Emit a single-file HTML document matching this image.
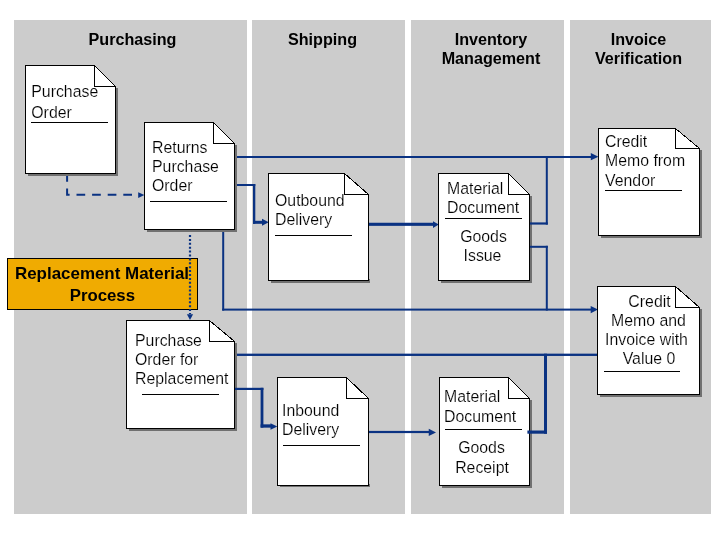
<!DOCTYPE html>
<html><head><meta charset="utf-8"><title>Replacement Material Process</title>
<style>
html,body{margin:0;padding:0;background:#fff;}
body{width:720px;height:540px;overflow:hidden;font-family:"Liberation Sans",sans-serif;}
svg{display:block;will-change:transform;opacity:0.999;}
svg text{font-family:"Liberation Sans",sans-serif;fill:#000;}
</style></head><body>
<svg width="720" height="540" viewBox="0 0 720 540" shape-rendering="crispEdges">
<rect x="14" y="20" width="233" height="494" fill="#cccccc"/>
<rect x="252" y="20" width="153" height="494" fill="#cccccc"/>
<rect x="411" y="20" width="153" height="494" fill="#cccccc"/>
<rect x="570" y="20" width="141" height="494" fill="#cccccc"/>
<text x="132.5" y="45" text-anchor="middle" font-size="16.15" font-weight="bold">Purchasing</text>
<text x="322.5" y="45" text-anchor="middle" font-size="16.15" font-weight="bold">Shipping</text>
<text x="491" y="45" text-anchor="middle" font-size="16.15" font-weight="bold">Inventory</text>
<text x="491" y="64" text-anchor="middle" font-size="16.15" font-weight="bold">Management</text>
<text x="638.5" y="45" text-anchor="middle" font-size="16.15" font-weight="bold">Invoice</text>
<text x="638.5" y="64" text-anchor="middle" font-size="16.15" font-weight="bold">Verification</text>
<rect x="236" y="156.0" width="356" height="2" fill="#0a3282" shape-rendering="auto"/>
<path d="M598.5,156.7 L590.8,153.1 V160.29999999999998 Z" fill="#0a3282" shape-rendering="auto"/>
<rect x="236" y="184.0" width="19.30000000000001" height="2" fill="#0a3282" shape-rendering="auto"/>
<rect x="253.0" y="184" width="2.3" height="39.80000000000001" fill="#0a3282" shape-rendering="auto"/>
<rect x="253" y="220.8" width="10" height="3" fill="#0a3282" shape-rendering="auto"/>
<path d="M268.7,222.3 L262.0,218.8 V225.8 Z" fill="#0a3282" shape-rendering="auto"/>
<rect x="368.5" y="222.75" width="65.5" height="3.1" fill="#0a3282" shape-rendering="auto"/>
<path d="M438.75,224.6 L433.0,221.29999999999998 V227.9 Z" fill="#0a3282" shape-rendering="auto"/>
<rect x="545.8" y="156" width="2" height="68.6" fill="#0a3282" shape-rendering="auto"/>
<rect x="545.8" y="245.8" width="2" height="64.80000000000001" fill="#0a3282" shape-rendering="auto"/>
<rect x="222.2" y="230" width="2" height="80.60000000000002" fill="#0a3282" shape-rendering="auto"/>
<rect x="222.2" y="308.6" width="369.8" height="2" fill="#0a3282" shape-rendering="auto"/>
<path d="M598,309.6 L590.7,306.0 V313.20000000000005 Z" fill="#0a3282" shape-rendering="auto"/>
<path d="M67.1,173 V194.8 H138.5" fill="none" stroke="#0a3282" stroke-width="2" stroke-dasharray="8.7 6.9" shape-rendering="auto"/>
<path d="M144.4,195.1 L138.20000000000002,192.29999999999998 V197.9 Z" fill="#0a3282" shape-rendering="auto"/>
<rect x="236" y="353.65000000000003" width="362" height="2.3" fill="#0a3282" shape-rendering="auto"/>
<rect x="260.6" y="387.8" width="2.8" height="39.80000000000001" fill="#0a3282" shape-rendering="auto"/>
<rect x="260.6" y="424.35" width="10.899999999999977" height="3.3" fill="#0a3282" shape-rendering="auto"/>
<path d="M277.3,426.5 L270.5,423.2 V429.8 Z" fill="#0a3282" shape-rendering="auto"/>
<rect x="369" y="430.9" width="61" height="2.2" fill="#0a3282" shape-rendering="auto"/>
<path d="M436,432.4 L428.75,428.79999999999995 V436.0 Z" fill="#0a3282" shape-rendering="auto"/>
<rect x="28.0" y="88.0" width="90.0" height="88.0" fill="#707070"/>
<path d="M25.5,65.5 H94.5 L115.5,86.5 V173.5 H25.5 Z" fill="#fff" stroke="#000" stroke-width="1"/>
<path d="M94.5,65.5 V86.5 H115.5" fill="none" stroke="#000" stroke-width="1"/>
<rect x="147.0" y="145.0" width="90.0" height="87.0" fill="#707070"/>
<path d="M144.5,122.5 H213.5 L234.5,143.5 V229.5 H144.5 Z" fill="#fff" stroke="#000" stroke-width="1"/>
<path d="M213.5,122.5 V143.5 H234.5" fill="none" stroke="#000" stroke-width="1"/>
<rect x="271.0" y="278.5" width="98.5" height="4.5" fill="#707070"/>
<path d="M268.5,173.5 H344.5 L368.5,194.5 V280.5 H268.5 Z" fill="#fff" stroke="#000" stroke-width="1"/>
<path d="M344.5,173.5 V194.5 H368.5" fill="none" stroke="#000" stroke-width="1"/>
<rect x="441.0" y="196.0" width="91.0" height="87.0" fill="#707070"/>
<path d="M438.5,173.5 H508.5 L529.5,194.5 V280.5 H438.5 Z" fill="#fff" stroke="#000" stroke-width="1"/>
<path d="M508.5,173.5 V194.5 H529.5" fill="none" stroke="#000" stroke-width="1"/>
<rect x="601.0" y="150.0" width="101.0" height="88.0" fill="#707070"/>
<path d="M598.5,128.5 H675.5 L699.5,148.5 V235.5 H598.5 Z" fill="#fff" stroke="#000" stroke-width="1"/>
<path d="M675.5,128.5 V148.5 H699.5" fill="none" stroke="#000" stroke-width="1"/>
<rect x="600.0" y="309.0" width="102.0" height="88.0" fill="#707070"/>
<path d="M597.5,286.5 H675.5 L699.5,307.5 V394.5 H597.5 Z" fill="#fff" stroke="#000" stroke-width="1"/>
<path d="M675.5,286.5 V307.5 H699.5" fill="none" stroke="#000" stroke-width="1"/>
<rect x="129.0" y="343.0" width="108.0" height="88.0" fill="#707070"/>
<path d="M126.5,320.5 H209.5 L234.5,341.5 V428.5 H126.5 Z" fill="#fff" stroke="#000" stroke-width="1"/>
<path d="M209.5,320.5 V341.5 H234.5" fill="none" stroke="#000" stroke-width="1"/>
<rect x="280.0" y="483.5" width="89.5" height="3.5" fill="#707070"/>
<path d="M277.5,377.5 H346.5 L368.5,398.5 V485.5 H277.5 Z" fill="#fff" stroke="#000" stroke-width="1"/>
<path d="M346.5,377.5 V398.5 H368.5" fill="none" stroke="#000" stroke-width="1"/>
<rect x="442.0" y="400.0" width="90.0" height="88.0" fill="#707070"/>
<path d="M439.5,377.5 H508.5 L529.5,398.5 V485.5 H439.5 Z" fill="#fff" stroke="#000" stroke-width="1"/>
<path d="M508.5,377.5 V398.5 H529.5" fill="none" stroke="#000" stroke-width="1"/>
<rect x="530" y="222.4" width="17.799999999999955" height="2.2" fill="#0a3282" shape-rendering="auto"/>
<rect x="530" y="245.8" width="17.799999999999955" height="2" fill="#0a3282" shape-rendering="auto"/>
<rect x="235" y="387.79999999999995" width="28.399999999999977" height="2.2" fill="#0a3282" shape-rendering="auto"/>
<rect x="527.4" y="430.5" width="19.600000000000023" height="3.2" fill="#0a3282" shape-rendering="auto"/>
<rect x="544.0" y="353.7" width="3" height="80.0" fill="#0a3282" shape-rendering="auto"/>
<text x="31.3" y="97" text-anchor="start" font-size="15.85" stroke="#fff" stroke-width="0.17">Purchase</text>
<text x="31.3" y="117.5" text-anchor="start" font-size="15.85" stroke="#fff" stroke-width="0.17">Order</text>
<path d="M31,122.5 H108" stroke="#000" stroke-width="1" fill="none"/>
<text x="152" y="152.5" text-anchor="start" font-size="15.85" stroke="#fff" stroke-width="0.17">Returns</text>
<text x="152" y="171.5" text-anchor="start" font-size="15.85" stroke="#fff" stroke-width="0.17">Purchase</text>
<text x="152" y="190.5" text-anchor="start" font-size="15.85" stroke="#fff" stroke-width="0.17">Order</text>
<path d="M150,201.5 H227" stroke="#000" stroke-width="1" fill="none"/>
<text x="275" y="205.5" text-anchor="start" font-size="15.85" stroke="#fff" stroke-width="0.17">Outbound</text>
<text x="275" y="224.5" text-anchor="start" font-size="15.85" stroke="#fff" stroke-width="0.17">Delivery</text>
<path d="M275,235.5 H352" stroke="#000" stroke-width="1" fill="none"/>
<text x="447" y="193.5" text-anchor="start" font-size="15.85" stroke="#fff" stroke-width="0.17">Material</text>
<text x="447" y="212.5" text-anchor="start" font-size="15.85" stroke="#fff" stroke-width="0.17">Document</text>
<path d="M445,218.5 H522" stroke="#000" stroke-width="1" fill="none"/>
<text x="483.5" y="241.5" text-anchor="middle" font-size="15.85" stroke="#fff" stroke-width="0.17">Goods</text>
<text x="482.5" y="260.5" text-anchor="middle" font-size="15.85" stroke="#fff" stroke-width="0.17">Issue</text>
<text x="605" y="146.5" text-anchor="start" font-size="15.85" stroke="#fff" stroke-width="0.17">Credit</text>
<text x="605" y="165.5" text-anchor="start" font-size="15.85" stroke="#fff" stroke-width="0.17">Memo from</text>
<text x="605" y="185.5" text-anchor="start" font-size="15.85" stroke="#fff" stroke-width="0.17">Vendor</text>
<path d="M605,190.5 H682" stroke="#000" stroke-width="1" fill="none"/>
<text x="649.5" y="306.5" text-anchor="middle" font-size="15.85" stroke="#fff" stroke-width="0.17">Credit</text>
<text x="648.5" y="325.5" text-anchor="middle" font-size="15.85" stroke="#fff" stroke-width="0.17">Memo and</text>
<text x="646.5" y="344.5" text-anchor="middle" font-size="15.85" stroke="#fff" stroke-width="0.17">Invoice with</text>
<text x="649" y="363.5" text-anchor="middle" font-size="15.85" stroke="#fff" stroke-width="0.17">Value 0</text>
<path d="M604,371.5 H680" stroke="#000" stroke-width="1" fill="none"/>
<text x="135" y="345.5" text-anchor="start" font-size="15.85" stroke="#fff" stroke-width="0.17">Purchase</text>
<text x="135" y="364.5" text-anchor="start" font-size="15.85" stroke="#fff" stroke-width="0.17">Order for</text>
<text x="135" y="383.5" text-anchor="start" font-size="15.85" stroke="#fff" stroke-width="0.17">Replacement</text>
<path d="M142,394.5 H219" stroke="#000" stroke-width="1" fill="none"/>
<text x="282" y="415.5" text-anchor="start" font-size="15.85" stroke="#fff" stroke-width="0.17">Inbound</text>
<text x="282" y="435" text-anchor="start" font-size="15.85" stroke="#fff" stroke-width="0.17">Delivery</text>
<path d="M283,445.5 H360" stroke="#000" stroke-width="1" fill="none"/>
<text x="444" y="401.5" text-anchor="start" font-size="15.85" stroke="#fff" stroke-width="0.17">Material</text>
<text x="444" y="421.5" text-anchor="start" font-size="15.85" stroke="#fff" stroke-width="0.17">Document</text>
<path d="M445,429.5 H522" stroke="#000" stroke-width="1" fill="none"/>
<text x="481.5" y="452.5" text-anchor="middle" font-size="15.85" stroke="#fff" stroke-width="0.17">Goods</text>
<text x="482" y="472.5" text-anchor="middle" font-size="15.85" stroke="#fff" stroke-width="0.17">Receipt</text>
<rect x="7.5" y="258.5" width="190" height="51" fill="#f0ab00" stroke="#000" stroke-width="1"/>
<text x="102" y="279.2" text-anchor="middle" font-size="16.95" font-weight="bold">Replacement Material</text>
<text x="102.4" y="301" text-anchor="middle" font-size="16.8" font-weight="bold">Process</text>
<path d="M190,235 V314" fill="none" stroke="#0a3282" stroke-width="2.2" stroke-dasharray="2 1.9" shape-rendering="auto"/>
<path d="M190,320 L186.9,314.3 H193.1 Z" fill="#0a3282" shape-rendering="auto"/>
</svg>
</body></html>
